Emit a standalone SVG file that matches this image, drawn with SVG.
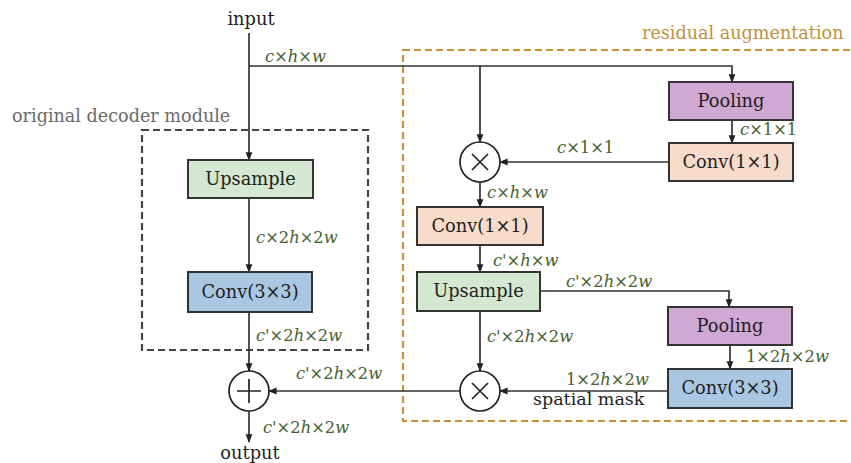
<svg xmlns="http://www.w3.org/2000/svg" width="851" height="463" viewBox="0 0 851 463">
<style>
.t{font-family:"DejaVu Serif","Liberation Serif",serif;font-size:17.8px;fill:#1e1e1e}
.d{font-family:"DejaVu Serif","Liberation Serif",serif;font-size:16.3px;font-style:italic;fill:#44612f}
.n{font-style:normal}
.box{stroke:#333;stroke-width:2}
.ln{fill:none;stroke:#333;stroke-width:1.7}
.ar{fill:none;stroke:#333;stroke-width:1.7;marker-end:url(#ah)}
.op{fill:#fff;stroke:#222;stroke-width:1.7}
</style>
<defs>
<marker id="ah" viewBox="0 0 10 10" refX="9" refY="5" markerWidth="5" markerHeight="5" orient="auto" markerUnits="strokeWidth">
<path d="M0,1 L10,5 L0,9 z" fill="#222"/>
</marker>
</defs>
<rect width="851" height="463" fill="#fff"/>

<g id="frames">
<rect x="142" y="130" width="226" height="220" fill="none" stroke="#444" stroke-width="2.2" stroke-dasharray="7,4"/>
<text class="t" x="12" y="122" style="fill:#6a6a6a;font-size:17.6px">original decoder module</text>
<rect x="403" y="50" width="460" height="371" fill="none" stroke="#c8913a" stroke-width="2.2" stroke-dasharray="7,4"/>
<text class="t" x="642" y="39" style="fill:#c48f3c;font-size:17.6px">residual augmentation</text>
</g>

<g id="connectors">
<line class="ar" x1="249" y1="33" x2="249" y2="160"/>
<polyline class="ar" points="249,66 732,66 732,82"/>
<line class="ar" x1="480" y1="66" x2="480" y2="142"/>
<line class="ar" x1="732" y1="120" x2="732" y2="143"/>
<line class="ar" x1="669" y1="162" x2="500" y2="162"/>
<line class="ar" x1="480" y1="182" x2="480" y2="207"/>
<line class="ar" x1="480" y1="245" x2="480" y2="272"/>
<polyline class="ar" points="540,291 729,291 729,307"/>
<line class="ar" x1="480" y1="311" x2="480" y2="371"/>
<line class="ar" x1="730" y1="345" x2="730" y2="369"/>
<line class="ar" x1="668" y1="391" x2="500" y2="391"/>
<line class="ar" x1="460" y1="391" x2="269" y2="391"/>
<line class="ar" x1="249" y1="198" x2="249" y2="272"/>
<line class="ar" x1="249" y1="312" x2="249" y2="371"/>
<line class="ar" x1="249" y1="411" x2="249" y2="442"/>
</g>

<g id="input"><text class="t" x="251" y="25" text-anchor="middle">input</text></g>
<g id="output"><text class="t" x="250" y="459" text-anchor="middle">output</text></g>

<g id="upsample1"><rect class="box" x="188" y="160" width="125" height="38" fill="#d4e7d0"/><text class="t" x="250.5" y="185" text-anchor="middle">Upsample</text></g>
<g id="conv3x3a"><rect class="box" x="188" y="272" width="124" height="40" fill="#a9c7e3"/><text class="t" x="250" y="298" text-anchor="middle">Conv(3×3)</text></g>
<g id="plus"><circle class="op" cx="249" cy="391" r="20"/><path d="M237,391 H261 M249,379 V403" stroke="#222" stroke-width="1.7"/></g>

<g id="pooling1"><rect class="box" x="669" y="82" width="124" height="38" fill="#cfa8d3"/><text class="t" x="731" y="107" text-anchor="middle">Pooling</text></g>
<g id="conv1x1a"><rect class="box" x="669" y="143" width="124" height="38" fill="#f8dccb"/><text class="t" x="731" y="168" text-anchor="middle">Conv(1×1)</text></g>
<g id="mul1"><circle class="op" cx="480" cy="162" r="20"/><path d="M472,154 L488,170 M488,154 L472,170" stroke="#222" stroke-width="1.7"/></g>
<g id="conv1x1b"><rect class="box" x="417" y="207" width="126" height="38" fill="#f8dccb"/><text class="t" x="480" y="232" text-anchor="middle">Conv(1×1)</text></g>
<g id="upsample2"><rect class="box" x="417" y="272" width="123" height="39" fill="#d4e7d0"/><text class="t" x="478.5" y="297" text-anchor="middle">Upsample</text></g>
<g id="pooling2"><rect class="box" x="668" y="307" width="124" height="38" fill="#cfa8d3"/><text class="t" x="730" y="332" text-anchor="middle">Pooling</text></g>
<g id="conv3x3b"><rect class="box" x="668" y="369" width="124" height="39" fill="#a9c7e3"/><text class="t" x="730" y="394" text-anchor="middle">Conv(3×3)</text></g>
<g id="mul2"><circle class="op" cx="480" cy="391" r="20"/><path d="M472,383 L488,399 M488,383 L472,399" stroke="#222" stroke-width="1.7"/></g>

<g id="labels">
<text class="d" x="265" y="62">c<tspan class="n">×</tspan>h<tspan class="n">×</tspan>w</text>
<text class="d" x="256" y="243">c<tspan class="n">×2</tspan>h<tspan class="n">×2</tspan>w</text>
<text class="d" x="256" y="341">c'<tspan class="n">×2</tspan>h<tspan class="n">×2</tspan>w</text>
<text class="d" x="296" y="379">c'<tspan class="n">×2</tspan>h<tspan class="n">×2</tspan>w</text>
<text class="d" x="263" y="433">c'<tspan class="n">×2</tspan>h<tspan class="n">×2</tspan>w</text>
<text class="d" x="740" y="135">c<tspan class="n">×1×1</tspan></text>
<text class="d" x="557" y="153">c<tspan class="n">×1×1</tspan></text>
<text class="d" x="487" y="198">c<tspan class="n">×</tspan>h<tspan class="n">×</tspan>w</text>
<text class="d" x="493" y="266">c'<tspan class="n">×</tspan>h<tspan class="n">×</tspan>w</text>
<text class="d" x="566" y="287">c'<tspan class="n">×2</tspan>h<tspan class="n">×2</tspan>w</text>
<text class="d" x="487" y="342">c'<tspan class="n">×2</tspan>h<tspan class="n">×2</tspan>w</text>
<text class="d" x="746" y="362"><tspan class="n">1×2</tspan>h<tspan class="n">×2</tspan>w</text>
<text class="d" x="566" y="385"><tspan class="n">1×2</tspan>h<tspan class="n">×2</tspan>w</text>
<text class="t" x="533" y="405" style="font-size:17.5px">spatial mask</text>
</g>
</svg>
